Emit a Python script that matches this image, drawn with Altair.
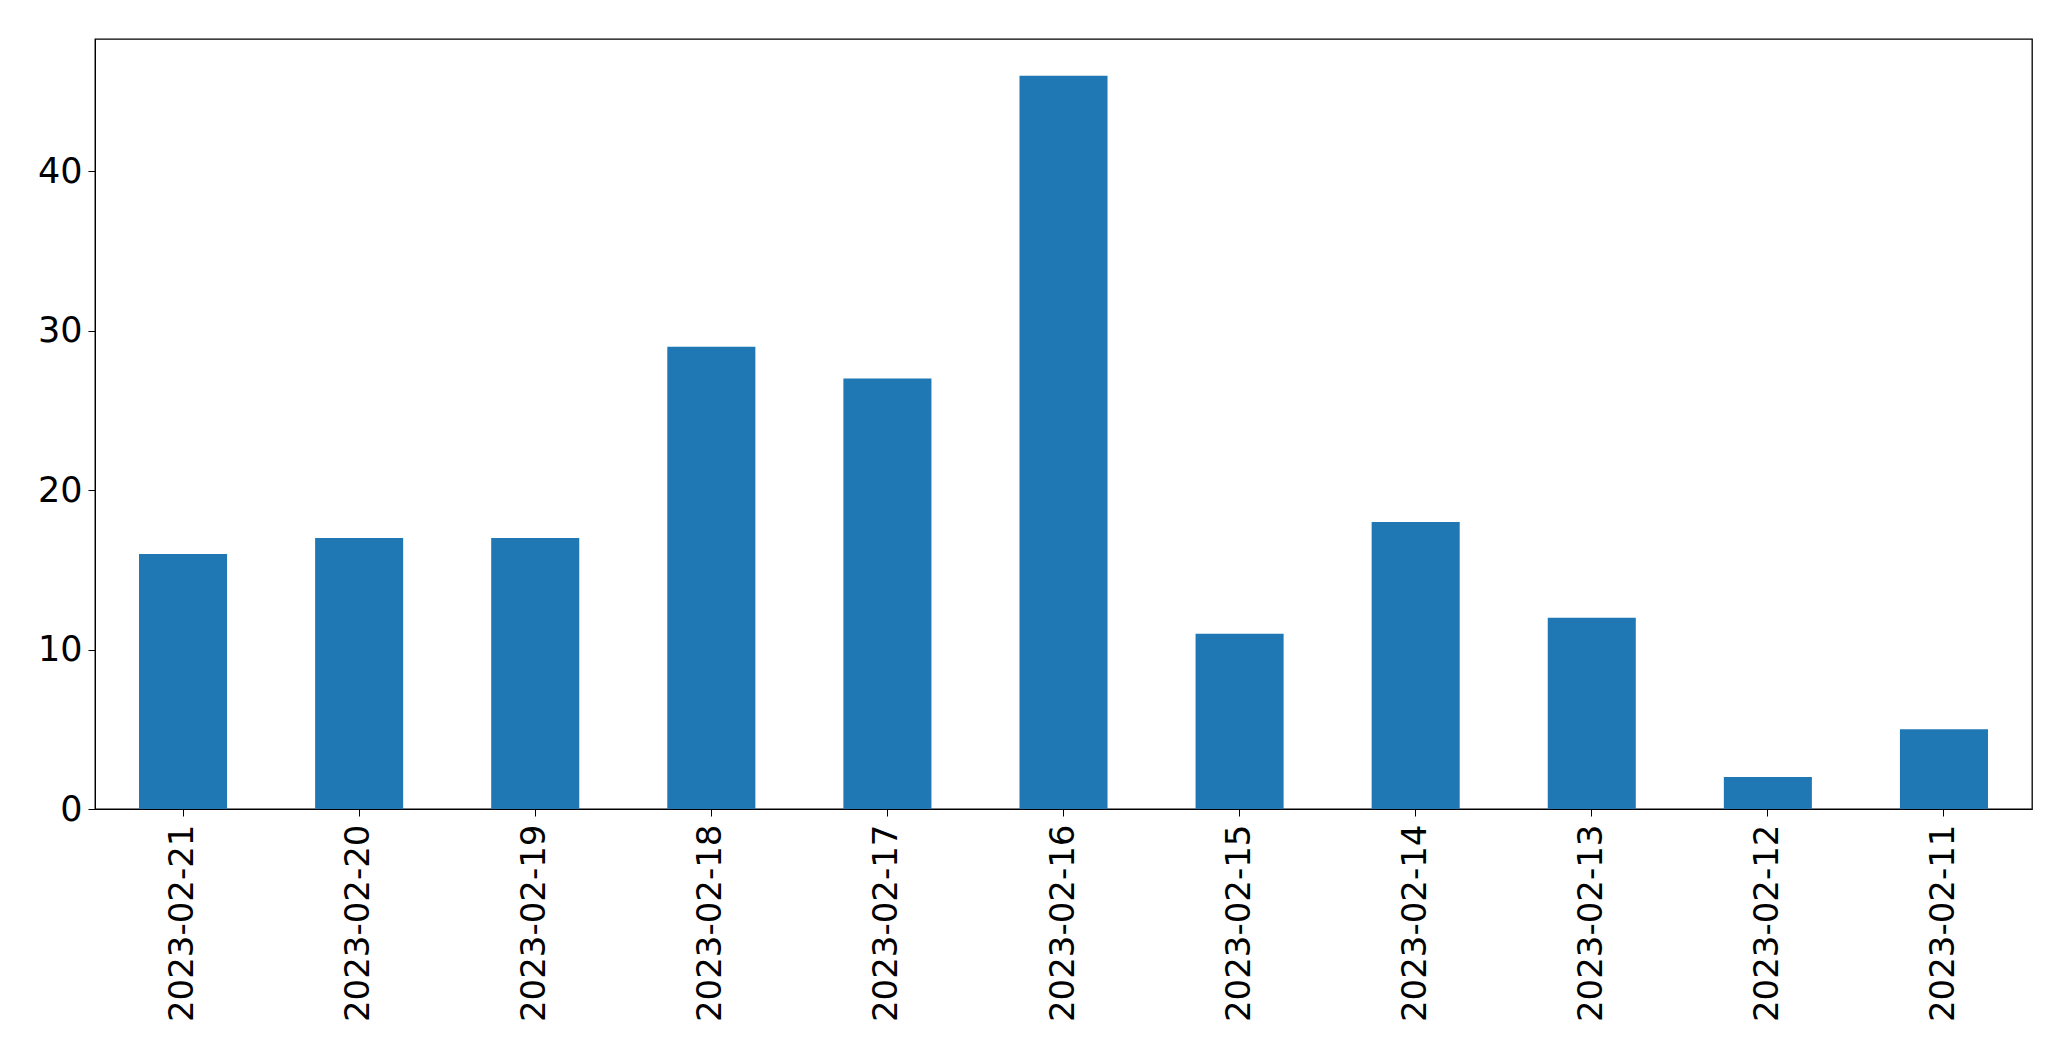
import altair as alt
import pandas as pd

dates = ["2023-02-21", "2023-02-20", "2023-02-19", "2023-02-18", "2023-02-17", "2023-02-16",
         "2023-02-15", "2023-02-14", "2023-02-13", "2023-02-12", "2023-02-11"]
counts = [16, 17, 17, 29, 27, 46, 11, 18, 12, 2, 5]

df = pd.DataFrame({"date": dates, "count": counts})

chart = alt.Chart(df).mark_bar(color="#1f77b4").encode(
    x=alt.X("date:N", sort=dates, title=None,
            scale=alt.Scale(paddingInner=0.5, paddingOuter=0.25),
            axis=alt.Axis(labelAngle=-90, labelFont="DejaVu Sans", labelFontSize=34,
                          labelColor="black", tickColor="black", domainColor="black",
                          tickSize=7, labelPadding=8, labelLimit=400)),
    y=alt.Y("count:Q", title=None,
            scale=alt.Scale(domain=[0, 48.3], nice=False, zero=True),
            axis=alt.Axis(values=[0, 10, 20, 30, 40], grid=False, labelFont="DejaVu Sans",
                          labelFontSize=35, labelColor="black", tickColor="black",
                          domainColor="black", tickSize=7, labelPadding=6)),
).properties(
    width=1937, height=770,
    autosize=alt.AutoSizeParams(type="none"),
    padding={"left": 87, "top": 31, "right": 30, "bottom": 230},
).configure_view(stroke="black", strokeWidth=1.3)

chart.save("out.html", embed_options={"renderer": "svg", "actions": False})
